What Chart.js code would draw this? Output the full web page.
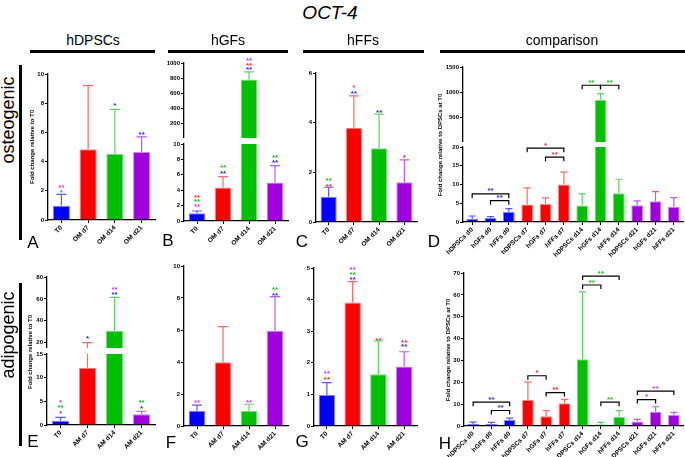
<!DOCTYPE html>
<html>
<head>
<meta charset="utf-8">
<script src="https://cdn.jsdelivr.net/npm/chart.js@4.4.1/dist/chart.umd.min.js"></script>
<style>
  body { margin: 0; width: 685px; height: 457px; position: relative; overflow: hidden; background: #fff;
         font-family: "Liberation Sans", Arial, sans-serif; }
  canvas { position: absolute; }
  .txt { position: absolute; white-space: nowrap; line-height: 1; color: #000; }
  .rule { position: absolute; background: #000; }
</style>
</head>
<body>
<script>
// categories
const omLabels = ['T0', 'OM d7', 'OM d14', 'OM d21'];
const amLabels = ['T0', 'AM d7', 'AM d14', 'AM d21'];
const cmpLabels = ['hDPSCs d0', 'hGFs d0', 'hFFs d0', 'hDPSCs d7', 'hGFs d7', 'hFFs d7',
  'hDPSCs d14', 'hGFs d14', 'hFFs d14', 'hDPSCs d21', 'hGFs d21', 'hFFs d21'];
const dayColors = ['b', 'r', 'g', 'm'];
const cmpColors = ['b', 'b', 'b', 'r', 'r', 'r', 'g', 'g', 'g', 'm', 'm', 'm'];

const columnNames = ['hDPSCs', 'hGFs', 'hFFs', 'comparison'];
const rowNames = ['osteogenic', 'adipogenic'];
const axisTitleT0 = 'Fold change relative to T0';
const axisTitleCmp = 'Fold change relative to DPSCs at T0';

// osteogenic (A-D): mean, SD, significance marks [bar, value, text, colour]
const aMean = [0.98, 4.84, 4.54, 4.66];
const aSd = [0.78, 4.36, 3.04, 1.04];
const aStars = [[0, 2.35, '**', 'm'], [0, 2.02, '*', 'g'], [2, 8.0, '*', 'b'], [3, 6.0, '**', 'b']];

const bMean = [1.0, 4.35, 782, 5.0];
const bSd = [0.3, 1.42, 102, 2.2];
const bStars = [[0, 3.38, '**', 'r'], [0, 2.75, '**', 'g'], [0, 2.15, '**', 'm'], [1, 7.2, '**', 'g'],
  [1, 6.5, '**', 'b'], [2, 1062, '**', 'm'], [2, 998, '**', 'r'], [2, 938, '**', 'b'],
  [3, 8.55, '**', 'g'], [3, 7.9, '**', 'b']];

const cMean = [1.02, 3.8, 2.97, 1.6];
const cSd = [0.38, 1.28, 1.37, 0.9];
const cStars = [[0, 1.77, '**', 'g'], [0, 1.5, '**', 'r'], [1, 5.52, '*', 'm'], [1, 5.25, '**', 'b'],
  [2, 4.49, '**', 'b'], [3, 2.68, '*', 'r']];

const dMean = [0.9, 1.07, 2.68, 4.64, 4.82, 10.0, 4.38, 854, 7.68, 4.46, 5.54, 4.1];
const dSd = [0.7, 0.36, 0.89, 4.46, 1.61, 3.3, 3.12, 120, 3.72, 1.17, 2.56, 2.4];
// brackets [from, to, value, text, colour]
const dLinks = [[0, 2, 7.5, '**', 'b'], [1, 2, 5.7, '**', 'b'], [3, 5, 19.7, '*', 'r'], [4, 5, 17.3, '**', 'r'],
  [6, 7, 1140, '**', 'g'], [7, 8, 1140, '**', 'g']];

// adipogenic (E-H)
const eMean = [0.9, 12.1, 30.8, 2.25];
const eSd = [0.7, 7.9, 30.5, 0.65];
const eStars = [[0, 5.1, '*', 'm'], [0, 4.1, '**', 'g'], [0, 2.8, '*', 'r'], [1, 25.5, '*', 'b'],
  [2, 70.5, '**', 'm'], [2, 65.6, '**', 'b'], [3, 5.1, '**', 'g'], [3, 3.9, '*', 'b']];

const fMean = [0.96, 3.98, 0.94, 5.96];
const fSd = [0.35, 2.23, 0.42, 2.12];
const fStars = [[0, 1.6, '**', 'm'], [2, 1.6, '**', 'm'], [3, 8.64, '**', 'g'], [3, 8.3, '**', 'b']];

const gMean = [0.98, 3.91, 1.64, 1.88];
const gSd = [0.39, 0.66, 1.05, 0.47];
const gStars = [[0, 1.72, '**', 'm'], [0, 1.53, '**', 'r'], [1, 5.02, '**', 'm'], [1, 4.85, '**', 'g'],
  [1, 4.69, '**', 'b'], [2, 2.78, '**', 'r'], [3, 2.72, '**', 'r'], [3, 2.58, '**', 'b']];

const hMean = [0.9, 0.9, 2.7, 11.9, 4.5, 10.4, 30.5, 0.8, 4.2, 2.1, 6.5, 5.0];
const hSd = [0.9, 0.8, 0.9, 8.2, 2.5, 1.8, 30.9, 0.9, 2.8, 0.9, 2.3, 1.2];
const hLinks = [[0, 2, 10.9, '**', 'b'], [1, 2, 7.1, '**', 'b'], [3, 4, 23, '*', 'r'], [4, 5, 15.3, '**', 'r'],
  [6, 7, 64.5, '**', 'g'], [6, 8, 68.6, '**', 'g'], [7, 8, 10.9, '**', 'g'],
  [9, 10, 12.1, '*', 'm'], [9, 11, 16, '**', 'm']];

const fill = { b: '#0000ff', r: '#ff0000', g: '#00c000', m: '#a000e0' };
const edge = { b: '#8080ff', r: '#ff8c8c', g: '#80dc80', m: '#cf86f2' };
const whisker = { b: '#5a5aff', r: '#ff6a6a', g: '#5fd35f', m: '#b95cee' };
const ink = { b: '#2a2aff', r: '#ff2a2a', g: '#19c419', m: '#c03cf0' };

Chart.defaults.font.family = '"Liberation Sans", Arial, sans-serif';

const marks = new WeakMap();

// error bars, asterisks and brackets
const markPlugin = {
  id: 'marks',
  afterDatasetsDraw(chart) {
    const o = marks.get(chart.canvas);
    const ctx = chart.ctx, ys = chart.scales.y;
    const bars = chart.getDatasetMeta(0).data;
    const py = v => ys.getPixelForValue(v);
    const shown = v => v >= ys.min && (v <= ys.max || o.top !== false);
    ctx.save();
    ctx.lineWidth = 1.2;
    o.mean.forEach((m, i) => {
      const hi = m + o.sd[i];
      if (hi < ys.min || m > ys.max) return;
      const x = bars[i].x;
      const y0 = py(Math.max(m, ys.min));
      const y1 = py(Math.min(hi, ys.max));
      ctx.strokeStyle = whisker[o.colors[i]];
      ctx.beginPath();
      ctx.moveTo(x, y0);
      ctx.lineTo(x, y1);
      if (hi <= ys.max) {
        const h = bars[i].width * 0.3;
        ctx.moveTo(x - h, y1);
        ctx.lineTo(x + h, y1);
      }
      ctx.stroke();
    });
    ctx.font = 'bold 8px "Liberation Sans", Arial, sans-serif';
    ctx.textAlign = 'center';
    ctx.textBaseline = 'alphabetic';
    (o.stars || []).forEach(([i, v, t, k]) => {
      if (!shown(v)) return;
      ctx.fillStyle = ink[k];
      ctx.fillText(t, bars[i].x, py(v) + 4.6);
    });
    (o.links || []).forEach(([i, j, v, t, k]) => {
      if (!shown(v)) return;
      const y = py(v), x0 = bars[i].x, x1 = bars[j].x;
      ctx.strokeStyle = '#000';
      ctx.beginPath();
      ctx.moveTo(x0, y + 4);
      ctx.lineTo(x0, y);
      ctx.lineTo(x1, y);
      ctx.lineTo(x1, y + 4);
      ctx.stroke();
      ctx.fillStyle = ink[k];
      ctx.fillText(t, (x0 + x1) / 2, y - 5 + 4.6);
    });
    ctx.restore();
  }
};

// box = canvas on the page, area = plot area on the page
function panel(o) {
  const [cx0, cy0, cx1, cy1] = o.box;
  const [ax0, ay0, ax1, ay1] = o.area;
  const showX = o.showX !== false;
  const cv = document.createElement('canvas');
  cv.width = cx1 - cx0;
  cv.height = cy1 - cy0;
  cv.style.left = cx0 + 'px';
  cv.style.top = cy0 + 'px';
  document.body.appendChild(cv);
  marks.set(cv, o);

  new Chart(cv, {
    type: 'bar',
    data: {
      labels: o.labels,
      datasets: [{
        data: o.mean,
        backgroundColor: o.colors.map(k => fill[k]),
        borderColor: o.colors.map(k => edge[k]),
        borderWidth: 1,
        barPercentage: 0.64,
        categoryPercentage: 1
      }]
    },
    options: {
      responsive: false,
      animation: false,
      devicePixelRatio: 1,
      layout: { padding: { left: 0, top: ay0 - cy0, right: cx1 - ax1, bottom: showX ? 0 : cy1 - ay1 } },
      plugins: { legend: { display: false }, tooltip: { enabled: false } },
      scales: {
        x: {
          display: showX,
          grid: { display: true, offset: false, drawOnChartArea: false, drawTicks: true, tickLength: 3, color: '#000' },
          border: { color: '#000', width: 1.3 },
          ticks: { color: '#000', font: { size: 6.5, weight: 'bold' }, minRotation: 45, maxRotation: 45, padding: 1, autoSkip: false },
          afterFit: s => {
            if (showX) s.height = cy1 - ay1;
            s.paddingLeft = 0;
            s.paddingRight = 0;
          }
        },
        y: {
          min: o.min,
          max: o.max,
          grid: { display: true, drawOnChartArea: false, drawTicks: true, tickLength: 3, color: '#000' },
          border: { color: '#000', width: 1.3 },
          ticks: { stepSize: o.step, color: '#000', font: { size: 6, weight: 'bold' }, padding: 1, callback: v => String(v) },
          afterBuildTicks: s => {
            const list = [];
            for (let v = Math.ceil(o.min / o.step) * o.step; v <= o.max + 1e-9; v += o.step) {
              if (v >= (o.tickFrom || 0)) list.push({ value: v });
            }
            s.ticks = list;
          },
          afterFit: s => {
            s.width = ax0 - cx0;
            s.paddingTop = 0;
            s.paddingBottom = 0;
          }
        }
      }
    },
    plugins: [markPlugin]
  });
}

// A
panel({ box: [20, 60, 162, 262], area: [48, 74, 155, 220], labels: omLabels, mean: aMean, sd: aSd,
  colors: dayColors, stars: aStars, min: 0, max: 10, step: 2 });
// B (broken axis)
panel({ box: [165, 45, 295, 138], area: [184, 63, 288, 138], labels: omLabels, mean: bMean, sd: bSd,
  colors: dayColors, stars: bStars, min: 10, max: 1000, step: 200, tickFrom: 200, showX: false });
panel({ box: [165, 138, 295, 262], area: [184, 144, 288, 221], labels: omLabels, mean: bMean, sd: bSd,
  colors: dayColors, stars: bStars, min: 0, max: 10, step: 2, top: false });
// C
panel({ box: [295, 55, 425, 262], area: [316, 73, 417, 222], labels: omLabels, mean: cMean, sd: cSd,
  colors: dayColors, stars: cStars, min: 0, max: 6, step: 2 });
// D (broken axis)
panel({ box: [430, 55, 685, 142], area: [463, 67, 683, 142], labels: cmpLabels, mean: dMean, sd: dSd,
  colors: cmpColors, links: dLinks, min: 20, max: 1500, step: 500, tickFrom: 500, showX: false });
panel({ box: [430, 138, 685, 262], area: [463, 147, 683, 222], labels: cmpLabels, mean: dMean, sd: dSd,
  colors: cmpColors, links: dLinks, min: 0, max: 20, step: 5, top: false });
// E (broken axis)
panel({ box: [20, 262, 162, 348], area: [47, 277, 155, 348], labels: amLabels, mean: eMean, sd: eSd,
  colors: dayColors, stars: eStars, min: 15, max: 80, step: 20, tickFrom: 20, showX: false });
panel({ box: [20, 348, 162, 457], area: [47, 354, 155, 425], labels: amLabels, mean: eMean, sd: eSd,
  colors: dayColors, stars: eStars, min: 0, max: 15, step: 5, top: false });
// F
panel({ box: [165, 255, 295, 457], area: [184, 266, 288, 426], labels: amLabels, mean: fMean, sd: fSd,
  colors: dayColors, stars: fStars, min: 0, max: 10, step: 2 });
// G
panel({ box: [295, 255, 425, 457], area: [314, 268, 417, 426], labels: amLabels, mean: gMean, sd: gSd,
  colors: dayColors, stars: gStars, min: 0, max: 5, step: 1 });
// H
panel({ box: [430, 255, 685, 457], area: [464, 273, 683, 426], labels: cmpLabels, mean: hMean, sd: hSd,
  colors: cmpColors, links: hLinks, min: 0, max: 70, step: 10 });

// page text
function text(str, x, y, css, rotate) {
  const d = document.createElement('div');
  d.className = 'txt';
  d.textContent = str;
  d.style.cssText += css;
  d.style.left = x + 'px';
  d.style.top = y + 'px';
  d.style.transform = 'translate(-50%,-50%)' + (rotate ? ' rotate(-90deg)' : '');
  document.body.appendChild(d);
}
function rule(x, y, w, h) {
  const d = document.createElement('div');
  d.className = 'rule';
  d.style.left = x + 'px';
  d.style.top = y + 'px';
  d.style.width = w + 'px';
  d.style.height = h + 'px';
  document.body.appendChild(d);
}

text('OCT-4', 330, 12, 'font-size:19px;font-style:italic;');
[[93, 30, 125], [228, 168, 120], [363, 303, 121], [562, 440, 245]].forEach(([cx, x, w], i) => {
  text(columnNames[i], cx, 40, 'font-size:14px;');
  rule(x, 50, w, 3);
});
text(rowNames[0], 8, 120, 'font-size:18px;', true);
rule(19, 65, 3, 175);
text(rowNames[1], 8, 335, 'font-size:18px;', true);
rule(19, 283, 3, 163);

text(axisTitleT0, 32, 147, 'font-size:6px;font-weight:bold;', true);
text(axisTitleCmp, 440, 145, 'font-size:6px;font-weight:bold;', true);
text(axisTitleT0, 30, 352, 'font-size:6px;font-weight:bold;', true);
text(axisTitleCmp, 448, 350, 'font-size:6px;font-weight:bold;', true);

[['A', 33, 242], ['B', 168, 240], ['C', 302, 241], ['D', 434, 241],
 ['E', 33, 441], ['F', 171, 442], ['G', 302, 441], ['H', 445, 443]].forEach(([t, x, y]) => {
  text(t, x, y, 'font-size:17px;');
});
</script>
</body>
</html>
